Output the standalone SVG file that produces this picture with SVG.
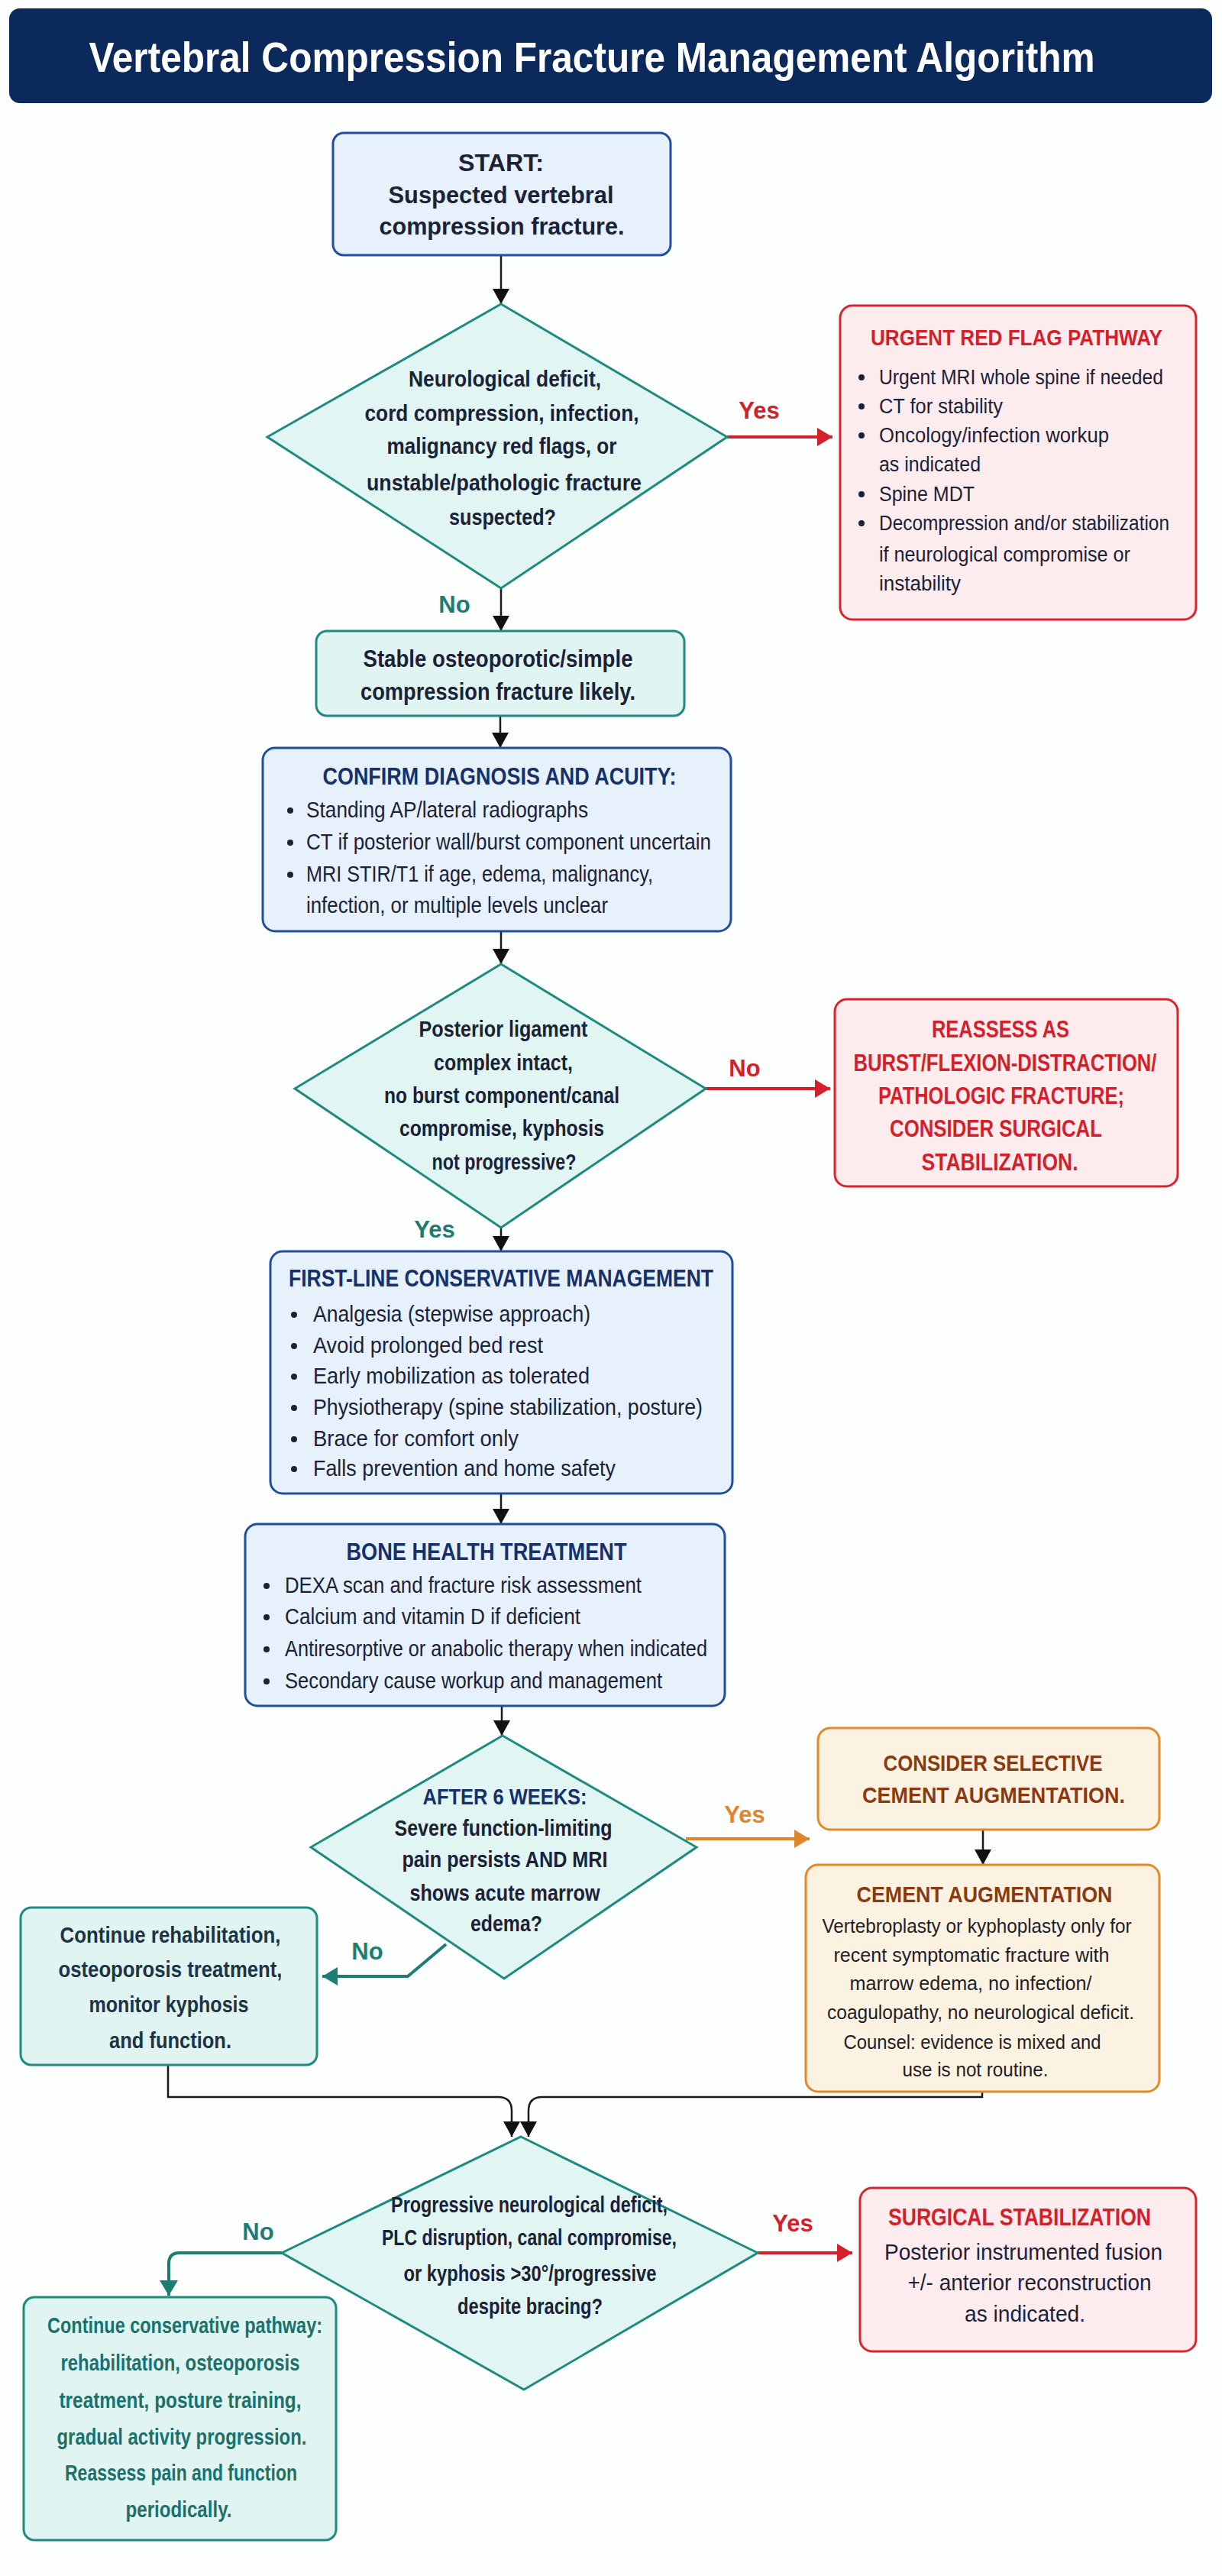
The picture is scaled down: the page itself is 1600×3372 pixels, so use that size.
<svg xmlns="http://www.w3.org/2000/svg" width="1600" height="3372" viewBox="0 0 1600 3372">
<defs>
<style>
text{font-family:"Liberation Sans",Arial,sans-serif;}
.b{font-weight:bold;}
.c{text-anchor:middle;}
.dk{fill:#1b2238;}
.nv{fill:#16306a;}
.rd{fill:#d3202a;}
.br{fill:#8a3a10;}
.tl{fill:#1c7d74;}
.sl{fill:#1c3444;}
.boxB{fill:#e7f1fb;stroke:#1f4f9e;stroke-width:3;}
.boxT{fill:#e0f4f2;stroke:#1f8a80;stroke-width:3;}
.boxR{fill:#fdeced;stroke:#d9232d;stroke-width:3;}
.boxO{fill:#fcf2e2;stroke:#e3892b;stroke-width:3;}
.dia{fill:#e1f5f3;stroke:#1f8a80;stroke-width:3;}
.ln{fill:none;stroke:#1a1a1a;stroke-width:2.5;}
.lr{fill:none;stroke:#d3202a;stroke-width:4;}
.lo{fill:none;stroke:#e0862a;stroke-width:4;}
.lt{fill:none;stroke:#1c7d74;stroke-width:4;}
</style>
<marker id="ak" markerUnits="userSpaceOnUse" markerWidth="20" markerHeight="22" refX="20" refY="11" orient="auto"><path d="M0,0 L20,11 L0,22 z" fill="#111"/></marker>
<marker id="ar" markerUnits="userSpaceOnUse" markerWidth="20" markerHeight="24" refX="20" refY="12" orient="auto"><path d="M0,0 L20,12 L0,24 z" fill="#d3202a"/></marker>
<marker id="ao" markerUnits="userSpaceOnUse" markerWidth="20" markerHeight="24" refX="20" refY="12" orient="auto"><path d="M0,0 L20,12 L0,24 z" fill="#e0862a"/></marker>
<marker id="at" markerUnits="userSpaceOnUse" markerWidth="20" markerHeight="24" refX="20" refY="12" orient="auto"><path d="M0,0 L20,12 L0,24 z" fill="#1c7d74"/></marker>
</defs>
<rect x="0" y="0" width="1600" height="3372" fill="#fcfdfd"/>

<g id="title">
<rect x="12" y="11" width="1575" height="124" rx="14" fill="#0b2a5b"/>
<text x="775" y="94" class="b c" font-size="56" fill="#ffffff" textLength="1317" lengthAdjust="spacingAndGlyphs">Vertebral Compression Fracture Management Algorithm</text>
</g>

<g id="connectors">
<path class="ln" d="M656,334 V398" marker-end="url(#ak)"/>
<path class="ln" d="M656,770 V826" marker-end="url(#ak)"/>
<path class="ln" d="M655,937 V979" marker-end="url(#ak)"/>
<path class="ln" d="M656,1219 V1262" marker-end="url(#ak)"/>
<path class="ln" d="M656,1607 V1638" marker-end="url(#ak)"/>
<path class="ln" d="M656,1955 V1995" marker-end="url(#ak)"/>
<path class="ln" d="M657,2233 V2272" marker-end="url(#ak)"/>
<path class="ln" d="M1287,2395 V2441" marker-end="url(#ak)"/>
<path class="ln" d="M220,2703 V2745 H652 Q670,2745 670,2763 V2797" marker-end="url(#ak)"/>
<path class="ln" d="M1286,2738 V2745 H710 Q692,2745 692,2763 V2797" marker-end="url(#ak)"/>
<path class="lr" d="M952,572 H1090" marker-end="url(#ar)"/>
<path class="lr" d="M924,1425 H1087" marker-end="url(#ar)"/>
<path class="lr" d="M992,2949 H1116" marker-end="url(#ar)"/>
<path class="lo" d="M898,2407 H1060" marker-end="url(#ao)"/>
<path class="lt" d="M584,2545 L534,2587 H422" marker-end="url(#at)"/>
<path class="lt" d="M369,2949 H235 Q221,2949 221,2963 V3005" marker-end="url(#at)"/>
<text x="994" y="548" class="b c rd" font-size="31">Yes</text>
<text x="595" y="802" class="b c tl" font-size="31">No</text>
<text x="975" y="1409" class="b c rd" font-size="31">No</text>
<text x="569" y="1620" class="b c tl" font-size="31">Yes</text>
<text x="975" y="2386" class="b c" font-size="31" fill="#e0862a">Yes</text>
<text x="481" y="2565" class="b c tl" font-size="31">No</text>
<text x="1038" y="2921" class="b c rd" font-size="31">Yes</text>
<text x="338" y="2932" class="b c tl" font-size="31">No</text>
</g>

<g id="start">
<rect class="boxB" x="436" y="174" width="442" height="160" rx="14"/>
<text x="656" y="224" class="b c dk" font-size="31" textLength="112" lengthAdjust="spacingAndGlyphs">START:</text>
<text x="656" y="266" class="b c dk" font-size="31" textLength="295" lengthAdjust="spacingAndGlyphs">Suspected vertebral</text>
<text x="657" y="307" class="b c dk" font-size="31" textLength="321" lengthAdjust="spacingAndGlyphs">compression fracture.</text>
</g>

<g id="decision1">
<polygon class="dia" points="656,398 952,572 656,770 350,572"/>
<text x="661" y="506" class="b c dk" font-size="30" textLength="252" lengthAdjust="spacingAndGlyphs">Neurological deficit,</text>
<text x="657" y="551" class="b c dk" font-size="30" textLength="359" lengthAdjust="spacingAndGlyphs">cord compression, infection,</text>
<text x="657" y="594" class="b c dk" font-size="30" textLength="301" lengthAdjust="spacingAndGlyphs">malignancy red flags, or</text>
<text x="660" y="642" class="b c dk" font-size="30" textLength="360" lengthAdjust="spacingAndGlyphs">unstable/pathologic fracture</text>
<text x="658" y="687" class="b c dk" font-size="30" textLength="140" lengthAdjust="spacingAndGlyphs">suspected?</text>
</g>

<g id="redflag">
<rect class="boxR" x="1100" y="400" width="466" height="411" rx="16"/>
<text x="1331" y="452" class="b c rd" font-size="30" textLength="382" lengthAdjust="spacingAndGlyphs">URGENT RED FLAG PATHWAY</text>
<g class="dk">
<circle cx="1128" cy="494" r="4"/><circle cx="1128" cy="532" r="4"/><circle cx="1128" cy="570" r="4"/><circle cx="1128" cy="647" r="4"/><circle cx="1128" cy="685" r="4"/>
</g>
<text x="1151" y="503" class="dk" font-size="27" textLength="372" lengthAdjust="spacingAndGlyphs">Urgent MRI whole spine if needed</text>
<text x="1151" y="541" class="dk" font-size="27" textLength="162" lengthAdjust="spacingAndGlyphs">CT for stability</text>
<text x="1151" y="579" class="dk" font-size="27" textLength="301" lengthAdjust="spacingAndGlyphs">Oncology/infection workup</text>
<text x="1151" y="617" class="dk" font-size="27" textLength="133" lengthAdjust="spacingAndGlyphs">as indicated</text>
<text x="1151" y="656" class="dk" font-size="27" textLength="125" lengthAdjust="spacingAndGlyphs">Spine MDT</text>
<text x="1151" y="694" class="dk" font-size="27" textLength="380" lengthAdjust="spacingAndGlyphs">Decompression and/or stabilization</text>
<text x="1151" y="735" class="dk" font-size="27" textLength="329" lengthAdjust="spacingAndGlyphs">if neurological compromise or</text>
<text x="1151" y="773" class="dk" font-size="27" textLength="107" lengthAdjust="spacingAndGlyphs">instability</text>
</g>

<g id="stable">
<rect class="boxT" x="414" y="826" width="482" height="111" rx="14"/>
<text x="652" y="873" class="b c dk" font-size="31" textLength="353" lengthAdjust="spacingAndGlyphs">Stable osteoporotic/simple</text>
<text x="652" y="916" class="b c dk" font-size="31" textLength="360" lengthAdjust="spacingAndGlyphs">compression fracture likely.</text>
</g>

<g id="confirm">
<rect class="boxB" x="344" y="979" width="613" height="240" rx="16"/>
<text x="654" y="1027" class="b c nv" font-size="31" textLength="463" lengthAdjust="spacingAndGlyphs">CONFIRM DIAGNOSIS AND ACUITY:</text>
<g class="dk"><circle cx="380" cy="1061" r="4"/><circle cx="380" cy="1103" r="4"/><circle cx="380" cy="1145" r="4"/></g>
<text x="401" y="1070" class="dk" font-size="29" textLength="369" lengthAdjust="spacingAndGlyphs">Standing AP/lateral radiographs</text>
<text x="401" y="1112" class="dk" font-size="29" textLength="530" lengthAdjust="spacingAndGlyphs">CT if posterior wall/burst component uncertain</text>
<text x="401" y="1154" class="dk" font-size="29" textLength="454" lengthAdjust="spacingAndGlyphs">MRI STIR/T1 if age, edema, malignancy,</text>
<text x="401" y="1195" class="dk" font-size="29" textLength="395" lengthAdjust="spacingAndGlyphs">infection, or multiple levels unclear</text>
</g>

<g id="decision2">
<polygon class="dia" points="656,1262 924,1425 656,1607 386,1425"/>
<text x="659" y="1357" class="b c dk" font-size="30" textLength="221" lengthAdjust="spacingAndGlyphs">Posterior ligament</text>
<text x="659" y="1401" class="b c dk" font-size="30" textLength="182" lengthAdjust="spacingAndGlyphs">complex intact,</text>
<text x="657" y="1444" class="b c dk" font-size="30" textLength="308" lengthAdjust="spacingAndGlyphs">no burst component/canal</text>
<text x="657" y="1487" class="b c dk" font-size="30" textLength="268" lengthAdjust="spacingAndGlyphs">compromise, kyphosis</text>
<text x="660" y="1531" class="b c dk" font-size="30" textLength="189" lengthAdjust="spacingAndGlyphs">not progressive?</text>
</g>

<g id="reassess">
<rect class="boxR" x="1093" y="1308" width="449" height="245" rx="16"/>
<text x="1310" y="1358" class="b c rd" font-size="31" textLength="180" lengthAdjust="spacingAndGlyphs">REASSESS AS</text>
<text x="1316" y="1402" class="b c rd" font-size="31" textLength="397" lengthAdjust="spacingAndGlyphs">BURST/FLEXION-DISTRACTION/</text>
<text x="1311" y="1445" class="b c rd" font-size="31" textLength="322" lengthAdjust="spacingAndGlyphs">PATHOLOGIC FRACTURE;</text>
<text x="1304" y="1488" class="b c rd" font-size="31" textLength="278" lengthAdjust="spacingAndGlyphs">CONSIDER SURGICAL</text>
<text x="1309" y="1532" class="b c rd" font-size="31" textLength="205" lengthAdjust="spacingAndGlyphs">STABILIZATION.</text>
</g>

<g id="firstline">
<rect class="boxB" x="354" y="1638" width="605" height="317" rx="16"/>
<text x="656" y="1684" class="b c nv" font-size="31" textLength="556" lengthAdjust="spacingAndGlyphs">FIRST-LINE CONSERVATIVE MANAGEMENT</text>
<g class="dk"><circle cx="385" cy="1721" r="4"/><circle cx="385" cy="1762" r="4"/><circle cx="385" cy="1802" r="4"/><circle cx="385" cy="1843" r="4"/><circle cx="385" cy="1884" r="4"/><circle cx="385" cy="1923" r="4"/></g>
<text x="410" y="1730" class="dk" font-size="29" textLength="363" lengthAdjust="spacingAndGlyphs">Analgesia (stepwise approach)</text>
<text x="410" y="1771" class="dk" font-size="29" textLength="301" lengthAdjust="spacingAndGlyphs">Avoid prolonged bed rest</text>
<text x="410" y="1811" class="dk" font-size="29" textLength="362" lengthAdjust="spacingAndGlyphs">Early mobilization as tolerated</text>
<text x="410" y="1852" class="dk" font-size="29" textLength="510" lengthAdjust="spacingAndGlyphs">Physiotherapy (spine stabilization, posture)</text>
<text x="410" y="1893" class="dk" font-size="29" textLength="269" lengthAdjust="spacingAndGlyphs">Brace for comfort only</text>
<text x="410" y="1932" class="dk" font-size="29" textLength="396" lengthAdjust="spacingAndGlyphs">Falls prevention and home safety</text>
</g>

<g id="bonehealth">
<rect class="boxB" x="321" y="1995" width="628" height="238" rx="16"/>
<text x="637" y="2042" class="b c nv" font-size="31" textLength="367" lengthAdjust="spacingAndGlyphs">BONE HEALTH TREATMENT</text>
<g class="dk"><circle cx="349" cy="2076" r="4"/><circle cx="349" cy="2117" r="4"/><circle cx="349" cy="2159" r="4"/><circle cx="349" cy="2201" r="4"/></g>
<text x="373" y="2085" class="dk" font-size="29" textLength="467" lengthAdjust="spacingAndGlyphs">DEXA scan and fracture risk assessment</text>
<text x="373" y="2126" class="dk" font-size="29" textLength="387" lengthAdjust="spacingAndGlyphs">Calcium and vitamin D if deficient</text>
<text x="373" y="2168" class="dk" font-size="29" textLength="553" lengthAdjust="spacingAndGlyphs">Antiresorptive or anabolic therapy when indicated</text>
<text x="373" y="2210" class="dk" font-size="29" textLength="494" lengthAdjust="spacingAndGlyphs">Secondary cause workup and management</text>
</g>

<g id="decision3">
<polygon class="dia" points="658,2272 912,2418 660,2590 407,2418"/>
<text x="661" y="2362" class="b c nv" font-size="30" textLength="215" lengthAdjust="spacingAndGlyphs">AFTER 6 WEEKS:</text>
<text x="659" y="2403" class="b c dk" font-size="30" textLength="285" lengthAdjust="spacingAndGlyphs">Severe function-limiting</text>
<text x="661" y="2444" class="b c dk" font-size="30" textLength="269" lengthAdjust="spacingAndGlyphs">pain persists AND MRI</text>
<text x="661" y="2488" class="b c dk" font-size="30" textLength="249" lengthAdjust="spacingAndGlyphs">shows acute marrow</text>
<text x="663" y="2528" class="b c dk" font-size="30" textLength="94" lengthAdjust="spacingAndGlyphs">edema?</text>
</g>

<g id="consider">
<rect class="boxO" x="1071" y="2262" width="447" height="133" rx="16"/>
<text x="1300" y="2318" class="b c br" font-size="30" textLength="287" lengthAdjust="spacingAndGlyphs">CONSIDER SELECTIVE</text>
<text x="1301" y="2360" class="b c br" font-size="30" textLength="344" lengthAdjust="spacingAndGlyphs">CEMENT AUGMENTATION.</text>
</g>

<g id="cement">
<rect class="boxO" x="1055" y="2441" width="463" height="297" rx="16"/>
<text x="1289" y="2490" class="b c br" font-size="30" textLength="335" lengthAdjust="spacingAndGlyphs">CEMENT AUGMENTATION</text>
<text x="1279" y="2530" class="c" font-size="26" fill="#1e1e26" textLength="405" lengthAdjust="spacingAndGlyphs">Vertebroplasty or kyphoplasty only for</text>
<text x="1272" y="2568" class="c" font-size="26" fill="#1e1e26" textLength="361" lengthAdjust="spacingAndGlyphs">recent symptomatic fracture with</text>
<text x="1271" y="2605" class="c" font-size="26" fill="#1e1e26" textLength="317" lengthAdjust="spacingAndGlyphs">marrow edema, no infection/</text>
<text x="1284" y="2643" class="c" font-size="26" fill="#1e1e26" textLength="402" lengthAdjust="spacingAndGlyphs">coagulopathy, no neurological deficit.</text>
<text x="1273" y="2682" class="c" font-size="26" fill="#1e1e26" textLength="337" lengthAdjust="spacingAndGlyphs">Counsel: evidence is mixed and</text>
<text x="1277" y="2718" class="c" font-size="26" fill="#1e1e26" textLength="191" lengthAdjust="spacingAndGlyphs">use is not routine.</text>
</g>

<g id="rehab">
<rect class="boxT" x="27" y="2497" width="388" height="206" rx="14"/>
<text x="223" y="2543" class="b c sl" font-size="30" textLength="289" lengthAdjust="spacingAndGlyphs">Continue rehabilitation,</text>
<text x="223" y="2588" class="b c sl" font-size="30" textLength="293" lengthAdjust="spacingAndGlyphs">osteoporosis treatment,</text>
<text x="221" y="2634" class="b c sl" font-size="30" textLength="209" lengthAdjust="spacingAndGlyphs">monitor kyphosis</text>
<text x="223" y="2681" class="b c sl" font-size="30" textLength="160" lengthAdjust="spacingAndGlyphs">and function.</text>
</g>

<g id="decision4">
<polygon class="dia" points="682,2797 992,2949 686,3128 369,2949"/>
<text x="693" y="2896" class="b c dk" font-size="30" textLength="362" lengthAdjust="spacingAndGlyphs">Progressive neurological deficit,</text>
<text x="693" y="2939" class="b c dk" font-size="30" textLength="386" lengthAdjust="spacingAndGlyphs">PLC disruption, canal compromise,</text>
<text x="694" y="2986" class="b c dk" font-size="30" textLength="331" lengthAdjust="spacingAndGlyphs">or kyphosis &gt;30°/progressive</text>
<text x="694" y="3029" class="b c dk" font-size="30" textLength="190" lengthAdjust="spacingAndGlyphs">despite bracing?</text>
</g>

<g id="surgical">
<rect class="boxR" x="1126" y="2864" width="440" height="214" rx="16"/>
<text x="1335" y="2913" class="b c rd" font-size="31" textLength="344" lengthAdjust="spacingAndGlyphs">SURGICAL STABILIZATION</text>
<text x="1340" y="2958" class="c dk" font-size="29" textLength="364" lengthAdjust="spacingAndGlyphs">Posterior instrumented fusion</text>
<text x="1348" y="2998" class="c dk" font-size="29" textLength="319" lengthAdjust="spacingAndGlyphs">+/- anterior reconstruction</text>
<text x="1342" y="3039" class="c dk" font-size="29" textLength="158" lengthAdjust="spacingAndGlyphs">as indicated.</text>
</g>

<g id="conservative">
<rect class="boxT" x="31" y="3007" width="409" height="318" rx="14"/>
<text x="242" y="3054" class="b c" font-size="30" fill="#1b716b" textLength="360" lengthAdjust="spacingAndGlyphs">Continue conservative pathway:</text>
<text x="236" y="3103" class="b c" font-size="30" fill="#1b716b" textLength="313" lengthAdjust="spacingAndGlyphs">rehabilitation, osteoporosis</text>
<text x="236" y="3152" class="b c" font-size="30" fill="#1b716b" textLength="317" lengthAdjust="spacingAndGlyphs">treatment, posture training,</text>
<text x="238" y="3200" class="b c" font-size="30" fill="#1b716b" textLength="327" lengthAdjust="spacingAndGlyphs">gradual activity progression.</text>
<text x="237" y="3247" class="b c" font-size="30" fill="#1b716b" textLength="304" lengthAdjust="spacingAndGlyphs">Reassess pain and function</text>
<text x="234" y="3295" class="b c" font-size="30" fill="#1b716b" textLength="139" lengthAdjust="spacingAndGlyphs">periodically.</text>
</g>
</svg>
